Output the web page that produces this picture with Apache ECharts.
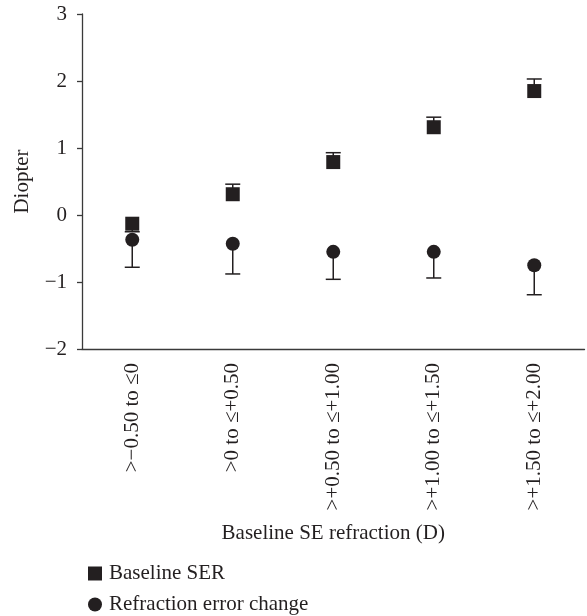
<!DOCTYPE html>
<html>
<head>
<meta charset="utf-8">
<script src="https://cdn.jsdelivr.net/npm/echarts@6/dist/echarts.min.js"></script>
<style>
html,body{margin:0;padding:0;background:#fff;}
#chart{width:587px;height:616px;}
</style>
</head>
<body>
<div id="chart"></div>
<script>
// ---- data ----
var categories = ['>\u22120.50 to \u22640', '>0 to \u2264+0.50', '>+0.50 to \u2264+1.00', '>+1.00 to \u2264+1.50', '>+1.50 to \u2264+2.00'];
var serMean = [-0.13, 0.31, 0.79, 1.31, 1.85];
var serCap = [-0.25, 0.46, 0.93, 1.46, 2.03];
var changeMean = [-0.37, -0.43, -0.55, -0.55, -0.75];
var changeCap = [-0.78, -0.88, -0.96, -0.94, -1.19];
var yTicks = [-2, -1, 0, 1, 2, 3];

var ink = '#231f20';
var axisInk = '#3a3a3a';
var font = '"Liberation Serif", "DejaVu Serif", serif';
var fs = 21;

function errData(mean, cap) {
  return mean.map(function (m, i) { return [i, m, cap[i]]; });
}

function renderErr(params, api) {
  var x = api.value(0);
  var p0 = api.coord([x, api.value(1)]);
  var p1 = api.coord([x, api.value(2)]);
  var hw = 7.5;
  var style = { stroke: ink, lineWidth: 1.5, opacity: 1 };
  return {
    type: 'group',
    children: [
      { type: 'line', shape: { x1: p0[0], y1: p0[1], x2: p1[0], y2: p1[1] }, style: style },
      { type: 'line', shape: { x1: p1[0] - hw, y1: p1[1], x2: p1[0] + hw, y2: p1[1] }, style: style }
    ]
  };
}

var legendText = { fontFamily: font, fontSize: fs, color: ink, padding: [0, 0, 0, 2] };

var chart = echarts.init(document.getElementById('chart'));
chart.setOption({
  animation: false,
  backgroundColor: '#fff',
  textStyle: { fontFamily: font },
  grid: { left: 82, top: 14, width: 502.5, height: 335, containLabel: false },
  xAxis: {
    type: 'category',
    data: categories,
    boundaryGap: true,
    name: 'Baseline SE refraction (D)',
    nameLocation: 'middle',
    nameGap: 174,
    nameTextStyle: { fontFamily: font, fontSize: fs, color: ink },
    axisLine: { onZero: false, lineStyle: { color: axisInk, width: 1.3 } },
    axisTick: { alignWithLabel: true, length: 5, lineStyle: { color: axisInk, width: 1.3 } },
    axisLabel: { rotate: 90, margin: 14, fontFamily: font, fontSize: fs, color: ink, interval: 0 },
    splitLine: { show: false }
  },
  yAxis: {
    type: 'value',
    min: yTicks[0],
    max: yTicks[yTicks.length - 1],
    interval: 1,
    name: 'Diopter',
    nameLocation: 'middle',
    nameGap: 49,
    nameTextStyle: { fontFamily: font, fontSize: fs, color: ink },
    axisLine: { show: true, onZero: false, lineStyle: { color: axisInk, width: 1.3 } },
    axisTick: { show: true, length: 5, lineStyle: { color: axisInk, width: 1.3 } },
    axisLabel: {
      margin: 15, fontFamily: font, fontSize: fs, color: ink,
      formatter: function (v) { return String(v).replace('-', '\u2212'); }
    },
    splitLine: { show: false }
  },
  legend: [
    {
      left: 83, top: 558, itemWidth: 14, itemHeight: 14,
      textStyle: legendText,
      data: [{ name: 'Baseline SER', icon: 'rect' }]
    },
    {
      left: 83, top: 589, itemWidth: 14, itemHeight: 14,
      textStyle: legendText,
      data: [{ name: 'Refraction error change', icon: 'circle' }]
    }
  ],
  series: [
    {
      name: 'SER error', type: 'custom', renderItem: renderErr,
      data: errData(serMean, serCap), z: 1, silent: true
    },
    {
      name: 'Change error', type: 'custom', renderItem: renderErr,
      data: errData(changeMean, changeCap), z: 1, silent: true
    },
    {
      name: 'Baseline SER', type: 'scatter', symbol: 'rect', symbolSize: 14,
      itemStyle: { color: ink, opacity: 1 }, data: serMean, z: 3
    },
    {
      name: 'Refraction error change', type: 'scatter', symbol: 'circle', symbolSize: 14,
      itemStyle: { color: ink, opacity: 1 }, data: changeMean, z: 3
    }
  ]
});
</script>
</body>
</html>
